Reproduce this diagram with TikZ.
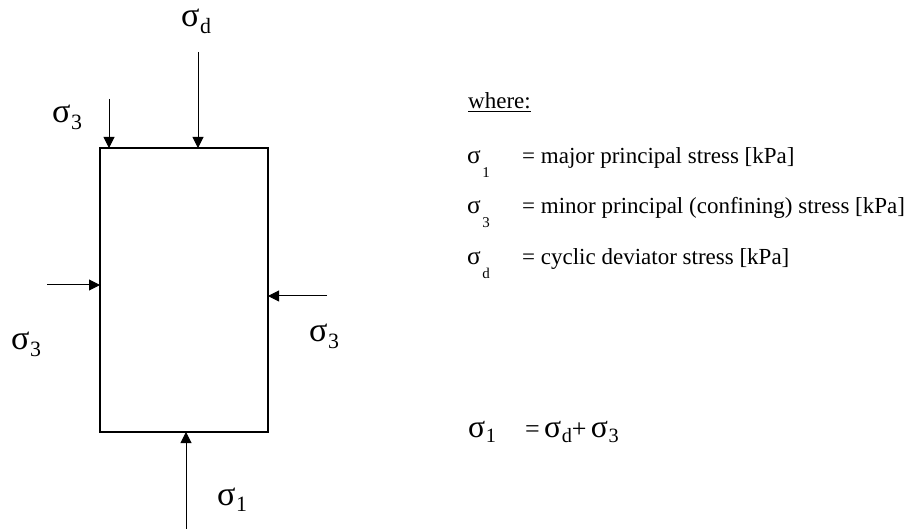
\documentclass[tikz,border=0pt]{standalone}
\usepackage{fontspec}
\usepackage{graphicx}
\setmainfont{Liberation Serif}
\usetikzlibrary{arrows.meta,calc}
\newcommand{\stress}[1]{\scalebox{1.22}{σ}\kern0.5pt\raisebox{-0.22em}{\scalebox{0.78}{#1}}}
\newcommand{\legsig}[1]{\scalebox{1.1}{σ}\kern1.5pt\raisebox{-0.6em}{\scalebox{0.65}{#1}}}

\begin{document}
\begin{tikzpicture}[x=1pt, y=-1pt,
  specimen/.style={draw, line width=1.2pt, minimum width=168pt, minimum height=284pt, inner sep=0pt},
  load/.style={line width=1pt, -{Triangle[length=11pt,width=11pt]}},
  lbl/.style={anchor=base west, inner sep=0pt, font=\fontsize{28}{30}\selectfont},
  leg/.style={anchor=base west, inner sep=0pt, font=\fontsize{23}{26}\selectfont},
  eqn/.style={anchor=base west, inner sep=0pt, font=\fontsize{26}{30}\selectfont}
]
\useasboundingbox (0,0) rectangle (916,529);
% specimen
\node[specimen] (box) at (184,290) {};

% loads on top
\coordinate (dtail) at (198,52);
\coordinate (dhead) at (198,148);
\coordinate (ttail) at (109,99);
\coordinate (thead) at (109,148);
\draw[load] (dtail) -- (dhead);
\draw[load] (ttail) -- (thead);
\node[lbl] (sd) at (181,27) {\stress{d}};
\node[lbl] (s3top) at (52,123) {\stress{3}};

% confining loads
\coordinate (ltail) at (47,285);
\coordinate (lhead) at (100,285);
\coordinate (rtail) at (327,296);
\coordinate (rhead) at (268,296);
\draw[load] (ltail) -- (lhead);
\draw[load] (rtail) -- (rhead);
\node[lbl] (s3left) at (11,350) {\stress{3}};
\node[lbl] (s3right) at (309,342) {\stress{3}};

% reaction at bottom
\coordinate (btail) at (186,529);
\coordinate (bhead) at (186,432);
\draw[load] (btail) -- (bhead);
\node[lbl] (s1) at (217,505) {\stress{1}};

% legend
\node[leg] (where) at (468,109) {\underline{where:}};
\node[leg] (k1) at (467,164) {\legsig{1}};
\node[leg] (v1) at (522,164) {= major principal stress [kPa]};
\node[leg] (k3) at (467,214) {\legsig{3}};
\node[leg] (v3) at (522,214) {= minor principal (confining) stress [kPa]};
\node[leg] (kd) at (467,265) {\legsig{d}};
\node[leg] (vd) at (522,265) {= cyclic deviator stress [kPa]};

% relation
\node[eqn] (e1) at (468,437) {\stress{1}};
\node[eqn] (e2) at (525,437) {=\,\stress{d}+\,\stress{3}};
\end{tikzpicture}
\end{document}
